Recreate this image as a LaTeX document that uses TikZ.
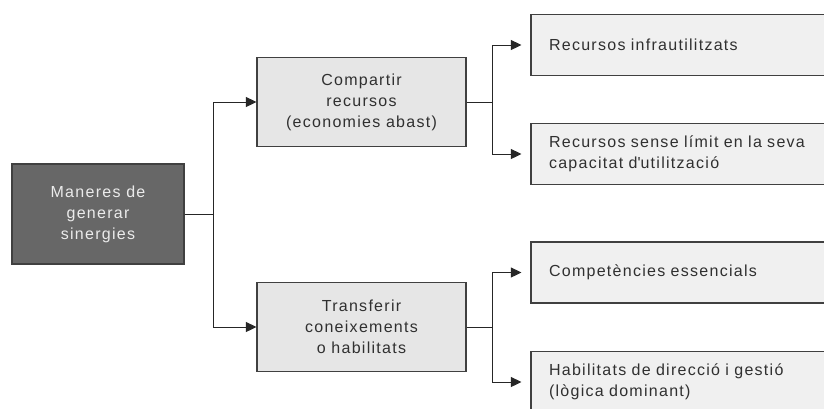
\documentclass[tikz,border=0pt]{standalone}
\usepackage{fontspec}
\setmainfont{Liberation Sans}[LetterSpace=8]
\usetikzlibrary{arrows.meta}
\definecolor{rootfill}{HTML}{676767}
\definecolor{midfill}{HTML}{E6E6E6}
\definecolor{leaffill}{HTML}{F0F0F0}
\definecolor{edge}{HTML}{404040}
\definecolor{ink}{HTML}{303030}
\tikzset{
  rootbox/.style={draw=edge, line width=1.2pt, fill=rootfill, text=white!92!black,
    minimum width=172pt, minimum height=100pt, inner sep=0pt, align=center},
  midbox/.style={draw=edge, line width=1.2pt, fill=midfill, text=ink,
    minimum width=209pt, minimum height=89pt, inner sep=0pt, align=center},
  leafbox/.style={draw=edge, line width=1.2pt, fill=leaffill, text=ink,
    minimum width=303pt, minimum height=61pt, inner xsep=18pt, inner ysep=0pt,
    text width=267pt, align=left},
  link/.style={draw=black!85, line width=1pt},
  arr/.style={link, -{Triangle[length=10.5pt,width=10pt]}},
}
\begin{document}
\begin{tikzpicture}[x=1pt, y=-1pt, font=\fontsize{16}{21}\selectfont]
\useasboundingbox (0,0) rectangle (824,408);
\clip (0,0) rectangle (824,408);
\fill[white] (0,0) rectangle (824,408);

% root
\node[rootbox] (root) at (98,214) {Maneres de\\generar\\sinergies};

% second level
\node[midbox] (share) at (361.5,102) {Compartir\\recursos\\(economies abast)};
\node[midbox] (transfer) at (361.5,327) {Transferir\\coneixements\\o habilitats};

% leaves
\node[leafbox] (l1) at (682.5,45) {Recursos infrautilitzats};
\node[leafbox] (l2) at (682.5,154) {Recursos sense límit en la seva\\capacitat d\textquotesingle utilització};
\node[leafbox] (l3) at (682.5,272.5) {Competències essencials};
\node[leafbox] (l4) at (682.5,382) {Habilitats de direcció i gestió\\(lògica dominant)};

% junction points
\coordinate (j0) at (213,214);
\coordinate (j1) at (492,102);
\coordinate (j2) at (492,327);

% connectors
\draw[link] (root.east) -- (j0);
\draw[arr] (j0) |- (share.west);
\draw[arr] (j0) |- (transfer.west);

\draw[link] (share.east) -- (j1);
\draw[arr, shorten >=9pt] (j1) |- (l1.west);
\draw[arr, shorten >=9pt] (j1) |- (l2.west);

\draw[link] (transfer.east) -- (j2);
\draw[arr, shorten >=9pt] (j2) |- (l3.west);
\draw[arr, shorten >=9pt] (j2) |- (l4.west);
\end{tikzpicture}
\end{document}
